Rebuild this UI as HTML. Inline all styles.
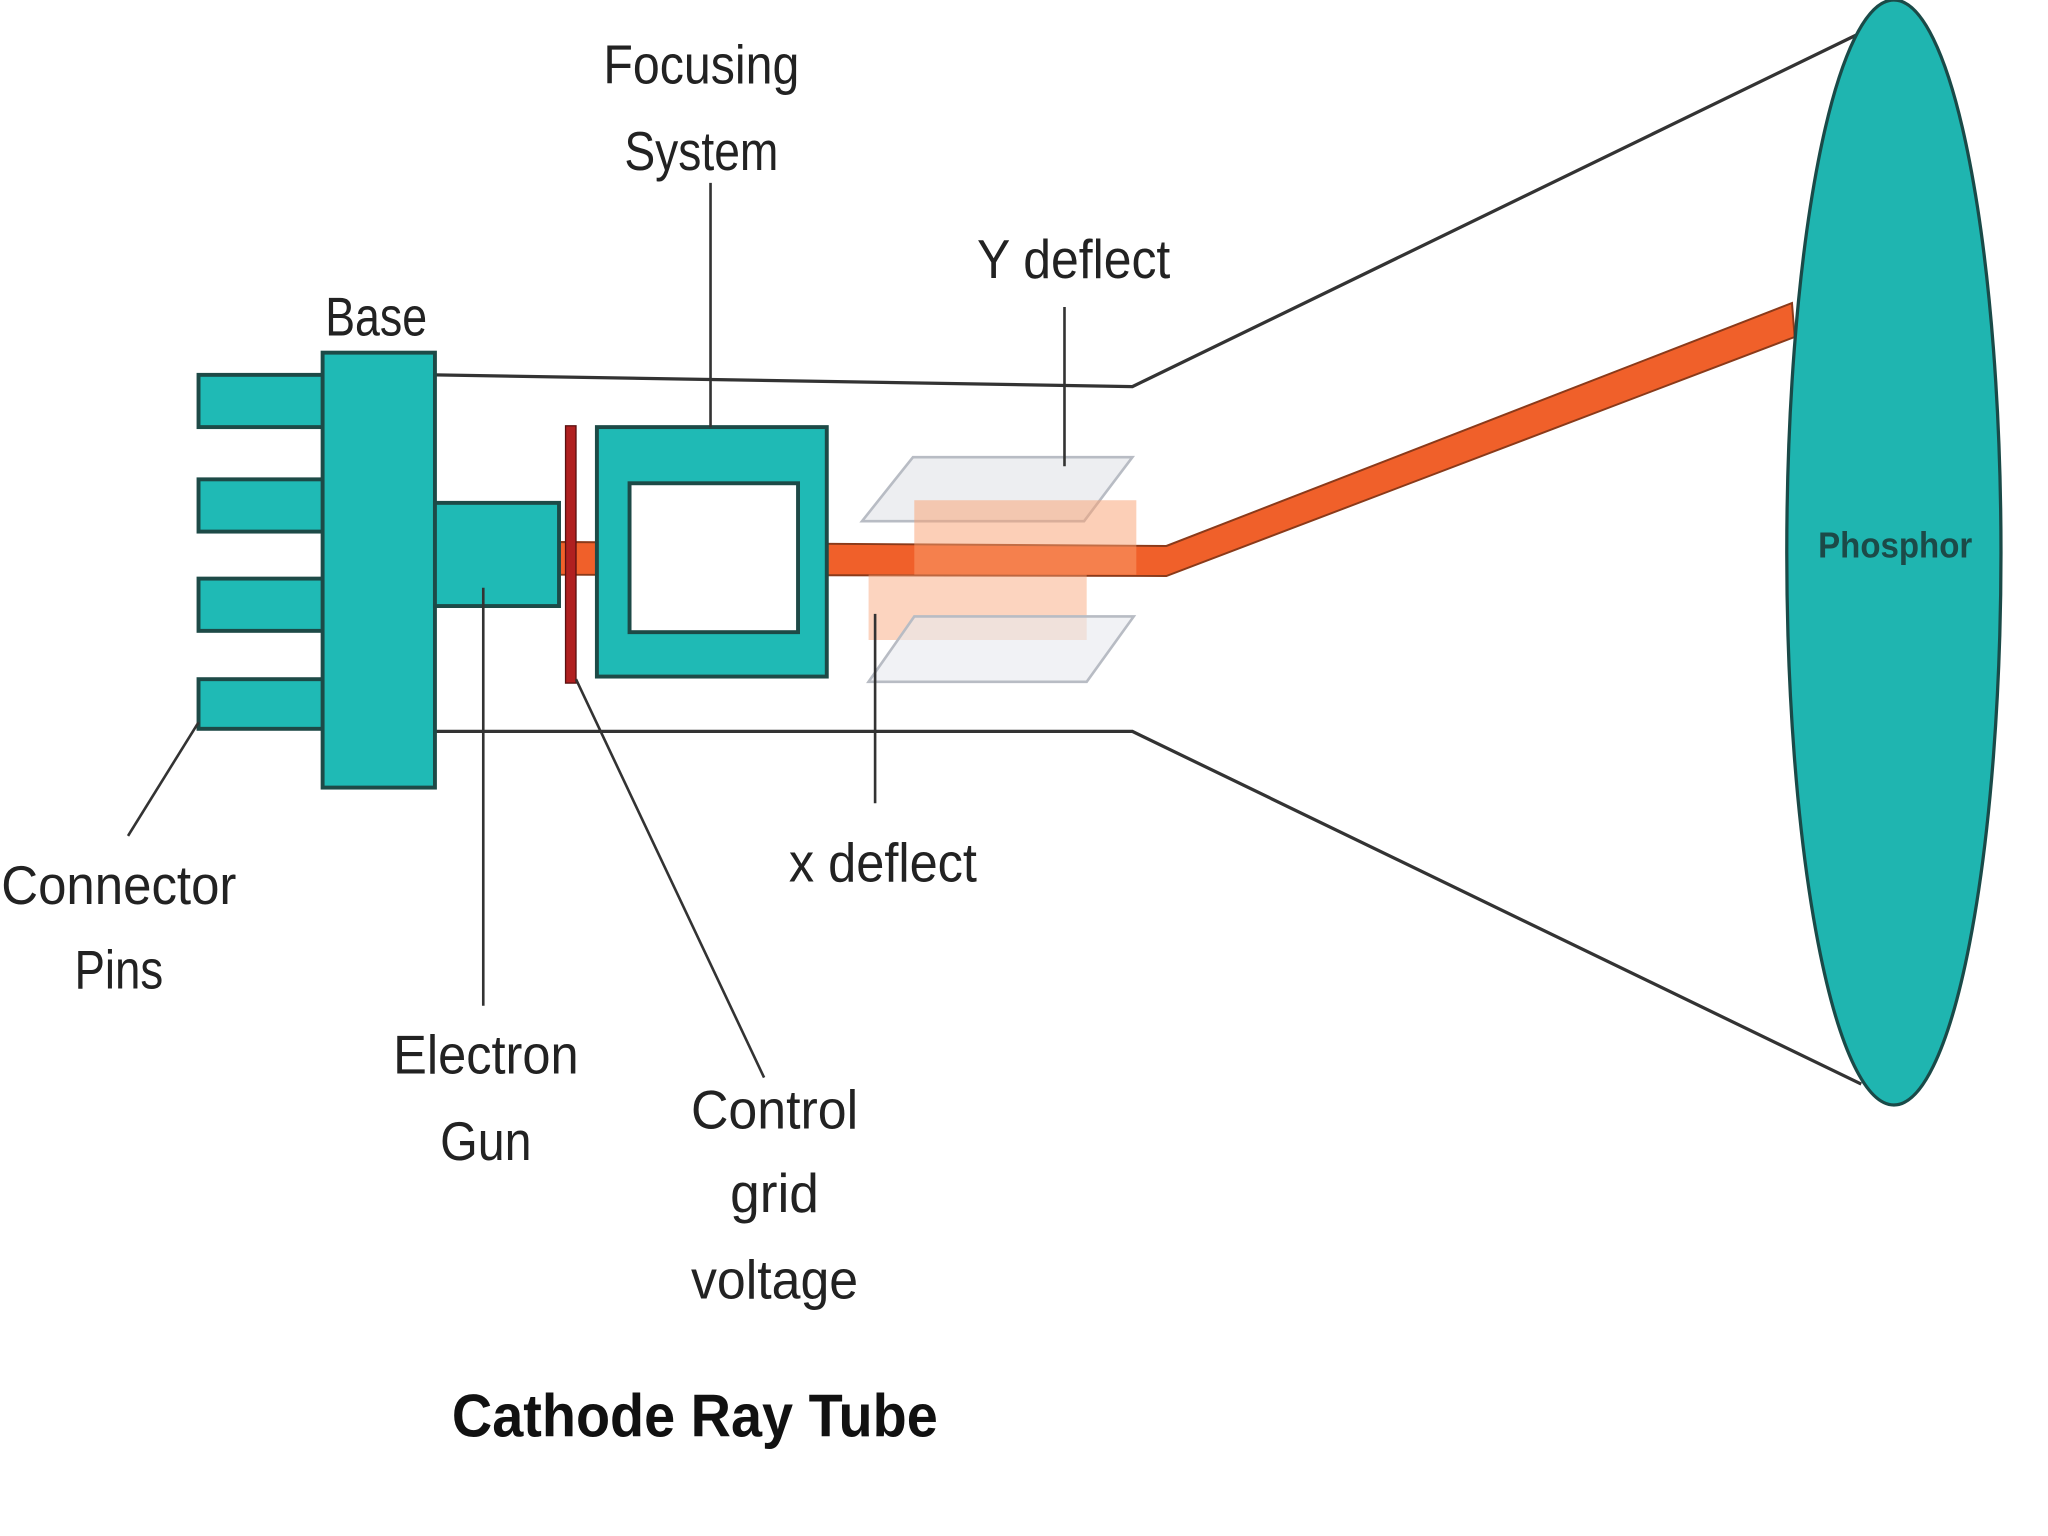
<!DOCTYPE html>
<html><head><style>html,body{margin:0;padding:0;background:#fff;}svg{display:block}</style></head>
<body>
<svg width="2048" height="1536" viewBox="0 0 1568 1176" xmlns="http://www.w3.org/2000/svg" font-family="Liberation Sans, sans-serif">
<rect width="1568" height="1176" fill="#fff"/>
<!-- tube outline -->
<polyline points="333,287 867,296 1425,25" fill="none" stroke="#333" stroke-width="2.5"/>
<polyline points="333,560 867,560 1425,830" fill="none" stroke="#333" stroke-width="2.5"/>
<!-- beam -->
<polygon points="428,415 893,418 1372,232 1374,258 893,441 428,440" fill="#f0602a" stroke="#8a3a1a" stroke-width="1.5"/>
<!-- phosphor -->
<ellipse cx="1450" cy="423" rx="82" ry="423" fill="#1fb5b0" stroke="#1a4a48" stroke-width="2.5"/>
<text x="1451" y="427" font-size="28" font-weight="bold" text-anchor="middle" fill="#1c4a48" textLength="118" lengthAdjust="spacingAndGlyphs">Phosphor</text>
<!-- pins -->
<g fill="#1fbab5" stroke="#1d4a47" stroke-width="3">
<rect x="152" y="287" width="96" height="40"/>
<rect x="152" y="367" width="96" height="40"/>
<rect x="152" y="443" width="96" height="40"/>
<rect x="152" y="520" width="96" height="38"/>
<rect x="247" y="270" width="86" height="333"/>
<rect x="333" y="385" width="95" height="79"/>
<rect x="457" y="327" width="176" height="191"/>
<rect x="482" y="370" width="129" height="114" fill="#fff"/>
</g>
<rect x="433" y="326" width="8" height="197" fill="#b02020" stroke="#5a1010" stroke-width="1"/>
<!-- deflect plates -->
<polygon points="660,399 699,350 867,350 830,399" fill="#e8eaee" fill-opacity="0.8" stroke="#b8bcc4" stroke-width="2"/>
<rect x="700" y="383" width="170" height="57" fill="#f9a070" fill-opacity="0.5"/>
<rect x="665" y="440" width="167" height="50" fill="#f9a070" fill-opacity="0.45"/>
<polygon points="665,522 700,472 868,472 832,522" fill="#e8eaee" fill-opacity="0.6" stroke="#b8bcc4" stroke-width="2"/>
<!-- leader lines -->
<g stroke="#333" stroke-width="2" fill="none">
<line x1="544" y1="140" x2="544" y2="327"/>
<line x1="815" y1="235" x2="815" y2="357"/>
<line x1="670" y1="470" x2="670" y2="615"/>
<line x1="370" y1="450" x2="370" y2="770"/>
<line x1="441" y1="520" x2="585" y2="825"/>
<line x1="152" y1="553" x2="98" y2="640"/>
</g>
<!-- labels -->
<g font-size="42" fill="#222" text-anchor="middle">
<text x="537" y="64" textLength="150" lengthAdjust="spacingAndGlyphs">Focusing</text>
<text x="537" y="130" textLength="118" lengthAdjust="spacingAndGlyphs">System</text>
<text x="288" y="257" textLength="78" lengthAdjust="spacingAndGlyphs">Base</text>
<text x="822" y="213" textLength="148" lengthAdjust="spacingAndGlyphs">Y deflect</text>
<text x="676" y="675" textLength="144" lengthAdjust="spacingAndGlyphs">x deflect</text>
<text x="91" y="692" textLength="180" lengthAdjust="spacingAndGlyphs">Connector</text>
<text x="91" y="757" textLength="68" lengthAdjust="spacingAndGlyphs">Pins</text>
<text x="372" y="822" textLength="142" lengthAdjust="spacingAndGlyphs">Electron</text>
<text x="372" y="888" textLength="70" lengthAdjust="spacingAndGlyphs">Gun</text>
<text x="593" y="864" textLength="128" lengthAdjust="spacingAndGlyphs">Control</text>
<text x="593" y="928" textLength="68" lengthAdjust="spacingAndGlyphs">grid</text>
<text x="593" y="994" textLength="128" lengthAdjust="spacingAndGlyphs">voltage</text>
<text x="532" y="1100" font-weight="bold" font-size="46" fill="#111" textLength="372" lengthAdjust="spacingAndGlyphs">Cathode Ray Tube</text>
</g>
</svg>
</body></html>
